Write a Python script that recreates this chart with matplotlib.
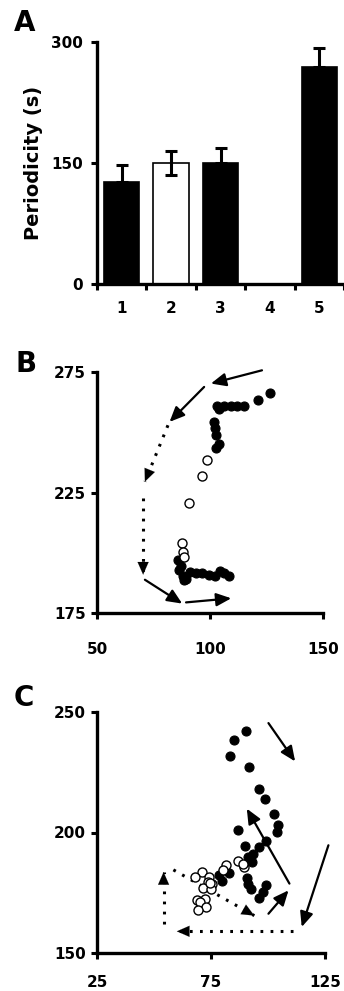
import numpy as np
import matplotlib
matplotlib.use('Agg')
import matplotlib.pyplot as plt

plt.rcParams['font.family'] = ['DejaVu Sans']
plt.rcParams['font.weight'] = 'bold'

# ---------- panel A: periodicity bars ----------
groups = ['1', '2', '3', '4', '5']
period = [126, 150, 150, 0, 269]
period_err = [21, 15, 18, 0, 24]
bar_face = ['black', 'white', 'black', 'black', 'black']

# ---------- panel B ----------
b_fill_x = [126.6, 121.2, 103.3, 106.2, 109.1, 112.0, 114.9, 104.0, 101.8, 102.0, 102.6, 104.0, 102.6,
            85.8, 87.0, 88.0, 89.5, 91.0, 94.0, 96.5, 99.5, 102.0, 104.5, 106.0, 108.5, 86.5, 88.5]
b_fill_y = [266.3, 263.3, 260.8, 261.0, 260.8, 260.8, 260.8, 259.8, 254.3, 251.6, 248.8, 245.3, 243.3,
            196.8, 194.4, 190.5, 189.0, 192.0, 191.8, 191.5, 190.8, 190.2, 192.5, 191.5, 190.2, 193.0, 188.8]
b_open_x = [98.5, 96.3, 90.6, 87.5, 88.0, 88.5]
b_open_y = [238.4, 232.0, 220.8, 204.2, 200.5, 198.4]
# arrows: (x_start, y_start, x_end, y_end, dotted)
b_arrows = [(123.0, 275.7, 100.4, 270.2, False),
            (97.4, 268.8, 82.1, 254.3, False),
            (81.4, 252.9, 71.2, 229.5, True),
            (70.4, 222.6, 70.4, 190.9, True),
            (71.2, 188.8, 87.7, 178.9, False),
            (89.4, 179.4, 109.4, 181.1, False)]

# ---------- panel C ----------
c_fill_x = [90.3, 84.9, 83.4, 91.7, 96.2, 98.7, 102.7, 104.6, 103.8, 86.8, 99.0, 89.7, 96.2, 93.6, 91.4,
            92.8, 90.7, 91.4, 92.4, 99.0, 98.0, 96.2, 83.1, 78.6, 80.0]
c_fill_y = [242.0, 238.2, 231.6, 227.2, 218.2, 214.0, 207.5, 203.0, 200.2, 200.9, 196.5, 194.3, 194.0, 191.0, 189.8,
            187.8, 181.1, 178.8, 176.7, 178.1, 175.3, 173.0, 183.2, 182.2, 180.0]
c_open_x = [86.8, 89.6, 88.9, 81.6, 80.2, 71.0, 68.1, 74.0, 73.8, 75.5, 71.7, 74.9, 72.2, 68.8, 70.3, 72.7, 69.5, 74.5]
c_open_y = [188.0, 185.8, 187.0, 186.4, 184.3, 183.6, 181.5, 181.5, 179.5, 178.8, 176.8, 176.5, 172.5, 172.1, 171.2, 169.1, 168.0, 179.0]
c_arrows = [(100.2, 245.4, 111.9, 229.5, False),
            (113.0, 227.2, 126.5, 198.1, False),
            (126.5, 194.7, 114.8, 160.8, False),
            (111.1, 159.0, 60.0, 159.0, True),
            (54.2, 162.2, 54.2, 183.6, True),
            (58.5, 184.5, 94.0, 165.5, True),
            (100.2, 166.3, 109.0, 176.0, False),
            (109.4, 178.8, 90.7, 209.9, False)]

W, H = 344, 991
fig = plt.figure(figsize=(W / 100, H / 100), dpi=100)


def style_axes(ax):
    for s in ['top', 'right']:
        ax.spines[s].set_visible(False)
    for s in ['left', 'bottom']:
        ax.spines[s].set_linewidth(2.4)
    ax.tick_params(width=2.2, length=4, direction='out', labelsize=11)


def draw_arrows(ax, arrows):
    head = dict(arrowstyle='-|>,head_length=0.5,head_width=0.22', mutation_scale=18, lw=1.6,
                color='black', shrinkA=0, shrinkB=0)
    for x0, y0, x1, y1, dotted in arrows:
        if dotted:
            ax.plot([x0, x1], [y0, y1], color='black', lw=2.2, ls=(0, (0.9, 2.4)),
                    dash_capstyle='butt')
            # solid head on the last bit of the dotted line
            xm, ym = x1 - 0.08 * (x1 - x0), y1 - 0.08 * (y1 - y0)
            ax.annotate('', xy=(x1, y1), xytext=(xm, ym),
                        arrowprops=dict(head, lw=0.1))
        else:
            ax.annotate('', xy=(x1, y1), xytext=(x0, y0), arrowprops=head)


# panel A
axA = fig.add_axes([97 / W, 1 - 284 / H, 247 / W, 242 / H])
pos = np.arange(1, len(groups) + 1)
axA.bar(pos, period, width=0.72, color=bar_face, edgecolor='black', linewidth=1.2, zorder=2)
for p, v, e, fc in zip(pos, period, period_err, bar_face):
    if e > 0:
        lower = e if fc == 'white' else 0
        axA.errorbar(p, v, yerr=[[lower], [e]], fmt='none', ecolor='black',
                     elinewidth=2.2, capsize=4, capthick=2.2, zorder=3)
axA.set_xlim(0.5, 5.5)
axA.set_ylim(0, 300)
axA.set_yticks([0, 150, 300])
axA.set_xticks(np.arange(0.5, 6.0, 1.0))
axA.set_xticklabels([])
axA.set_xticks(pos, minor=True)
axA.set_xticklabels(groups, minor=True)
style_axes(axA)
axA.tick_params(axis='y', pad=6)
axA.tick_params(axis='x', which='minor', length=0, pad=12, labelsize=11)
axA.set_ylabel('Periodicity (s)', fontsize=14, fontweight='bold', labelpad=6)
fig.text(14 / W, 1 - 31 / H, 'A', fontsize=20, fontweight='bold')

# panel B
axB = fig.add_axes([97 / W, 1 - 613 / H, 226 / W, 241 / H])
axB.plot(b_fill_x, b_fill_y, 'o', ms=6.5, mfc='black', mec='black', mew=0.8, zorder=3)
axB.plot(b_open_x, b_open_y, 'o', ms=6.5, mfc='white', mec='black', mew=1.0, zorder=4)
draw_arrows(axB, b_arrows)
axB.set_xlim(50, 150)
axB.set_ylim(175, 275)
axB.set_xticks([50, 100, 150])
axB.set_yticks([175, 225, 275])
style_axes(axB)
axB.tick_params(axis='x', pad=17)
axB.tick_params(axis='y', pad=4)
fig.text(15 / W, 1 - 372 / H, 'B', fontsize=20, fontweight='bold')

# panel C
axC = fig.add_axes([97 / W, 1 - 953 / H, 228 / W, 241 / H])
axC.plot(c_fill_x, c_fill_y, 'o', ms=6.5, mfc='black', mec='black', mew=0.8, zorder=3)
axC.plot(c_open_x, c_open_y, 'o', ms=6.5, mfc='white', mec='black', mew=1.0, zorder=4)
draw_arrows(axC, c_arrows)
axC.set_xlim(25, 125)
axC.set_ylim(150, 250)
axC.set_xticks([25, 75, 125])
axC.set_yticks([150, 200, 250])
style_axes(axC)
axC.tick_params(axis='x', pad=12)
axC.tick_params(axis='y', pad=4)
fig.text(14 / W, 1 - 706 / H, 'C', fontsize=20, fontweight='bold')

fig.savefig('out.png', dpi=100)
